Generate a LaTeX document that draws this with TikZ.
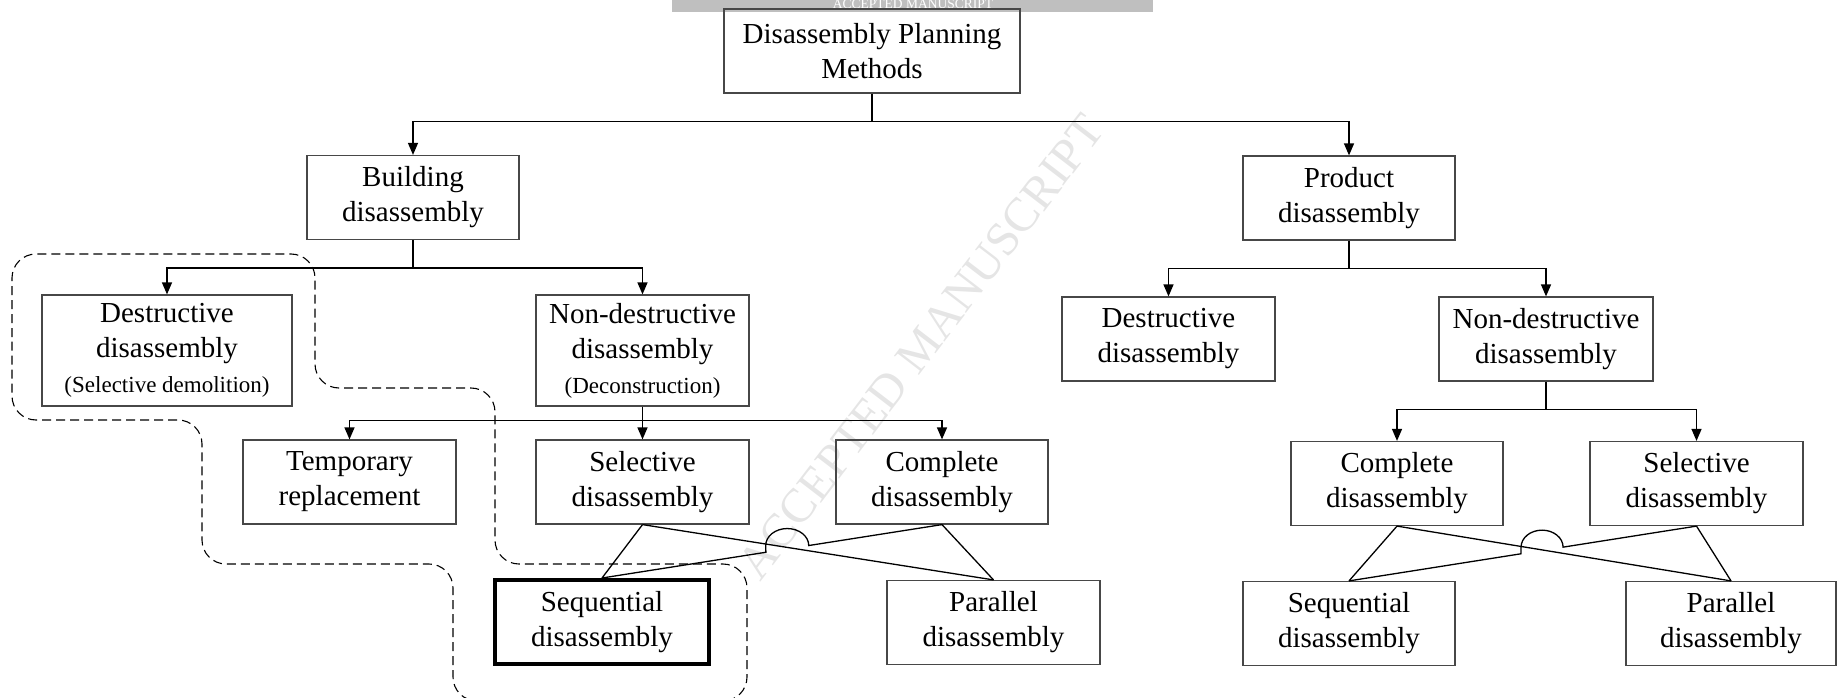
\documentclass[tikz,border=0pt]{standalone}
\usepackage{fontspec}
\setmainfont{Liberation Serif}
\usetikzlibrary{arrows.meta,calc}
\begin{document}
\begin{tikzpicture}[x=1pt,y=1pt,
  box/.style={draw=black!72, line width=1.2pt, align=center, inner sep=0pt,
    minimum width=212pt, minimum height=84pt, font=\fontsize{29}{35}\selectfont},
  thickbox/.style={box, draw=black, line width=4pt},
  conn/.style={line width=1.3pt, black},
  arr/.style={conn, -{Triangle[length=12pt,width=10pt]}},
  contour/.style={line width=1.1pt, dash pattern=on 9pt off 5pt, rounded corners=24pt}
]
\useasboundingbox (0,0) rectangle (1838,-698);

% watermark
\node[text=black!10, font=\fontsize{48}{48}\selectfont, rotate=52.5] (wm) at (921,-347) {ACCEPTED MANUSCRIPT};
\fill[black!25] (672,0) rectangle (1153,-12.5);
\node[text=white, font=\fontsize{13.5}{14}\selectfont, anchor=base, inner sep=0pt] (bar) at (913,-8.5) {ACCEPTED MANUSCRIPT};

% nodes
\node[box, minimum width=296pt] (top) at (872,-51) {Disassembly Planning\\Methods};
\node[box] (build) at (413,-197.5) {Building\\disassembly};
\node[box] (prod) at (1349,-198) {Product\\disassembly};
\node[box, minimum width=250pt, minimum height=111pt] (dest) at (167,-350.5)
  {Destructive\\disassembly\\{\fontsize{23}{35}\selectfont (Selective demolition)}};
\node[box, minimum width=213pt, minimum height=111pt] (nond) at (642.5,-350.5)
  {Non-destructive\\disassembly\\{\fontsize{23}{35}\selectfont (Deconstruction)}};
\node[box, minimum width=213pt] (dest2) at (1168.5,-339) {Destructive\\disassembly};
\node[box, minimum width=214pt] (nond2) at (1546,-339) {Non-destructive\\disassembly};
\node[box, minimum width=213pt] (temp) at (349.5,-482) {Temporary\\replacement};
\node[box, minimum width=213pt] (sel) at (642.5,-482) {Selective\\disassembly};
\node[box] (cpl) at (942,-482) {Complete\\disassembly};
\node[thickbox, minimum width=214pt] (seq) at (602,-622) {Sequential\\disassembly};
\node[box, minimum width=213pt] (par) at (993.5,-622.5) {Parallel\\disassembly};
\node[box] (cpl2) at (1397,-483.5) {Complete\\disassembly};
\node[box, minimum width=213pt] (sel2) at (1696.5,-483.5) {Selective\\disassembly};
\node[box] (seq2) at (1349,-623.5) {Sequential\\disassembly};
\node[box, minimum width=210pt] (par2) at (1731,-623.5) {Parallel\\disassembly};

% tree connectors
\draw[conn] (top.south) -- ++(0,-28) coordinate (j0);
\draw[arr] (j0) -| (build.north);
\draw[arr] (j0) -| (prod.north);
\draw[conn] (build.south) -- ++(0,-28) coordinate (jb);
\draw[arr] (jb) -| (dest.north);
\draw[arr] (jb) -| (nond.north);
\draw[conn] (prod.south) -- ++(0,-28) coordinate (jp);
\draw[arr] (jp) -| (dest2.north);
\draw[arr] (jp) -| (nond2.north);
\draw[conn] (nond.south) -- ++(0,-14) coordinate (jn);
\draw[arr] (jn) -| (temp.north);
\draw[arr] (jn) -- (sel.north);
\draw[arr] (jn) -| (cpl.north);
\draw[conn] (nond2.south) -- ++(0,-28) coordinate (jn2);
\draw[arr] (jn2) -| (cpl2.north);
\draw[arr] (jn2) -| (sel2.north);

% crossing lines, left
\draw[conn] (sel.south) -- (seq.north);
\draw[conn] (sel.south) -- (par.north);
\draw[conn] (cpl.south) -- (par.north);
\draw[conn] (cpl.south) -- ($(cpl.south)!0.392!(seq.north)$)
  arc[start angle=0, end angle=180, x radius=21.5, y radius=17]
  -- ($(cpl.south)!0.518!(seq.north)$) -- (seq.north);
% crossing lines, right
\draw[conn] (cpl2.south) -- (seq2.north);
\draw[conn] (cpl2.south) -- (par2.north);
\draw[conn] (sel2.south) -- (par2.north);
\draw[conn] (sel2.south) -- ($(sel2.south)!0.384!(seq2.north)$)
  arc[start angle=0, end angle=180, x radius=21, y radius=17]
  -- ($(sel2.south)!0.505!(seq2.north)$) -- (seq2.north);

% dashed contour
\draw[contour] (12,-337) -- (12,-254) -- (315,-254) -- (315,-388) -- (495,-388)
  -- (495,-564) -- (747,-564) -- (747,-701) -- (453,-701) -- (453,-564)
  -- (202,-564) -- (202,-420) -- (12,-420) -- (12,-337);
\end{tikzpicture}
\end{document}
